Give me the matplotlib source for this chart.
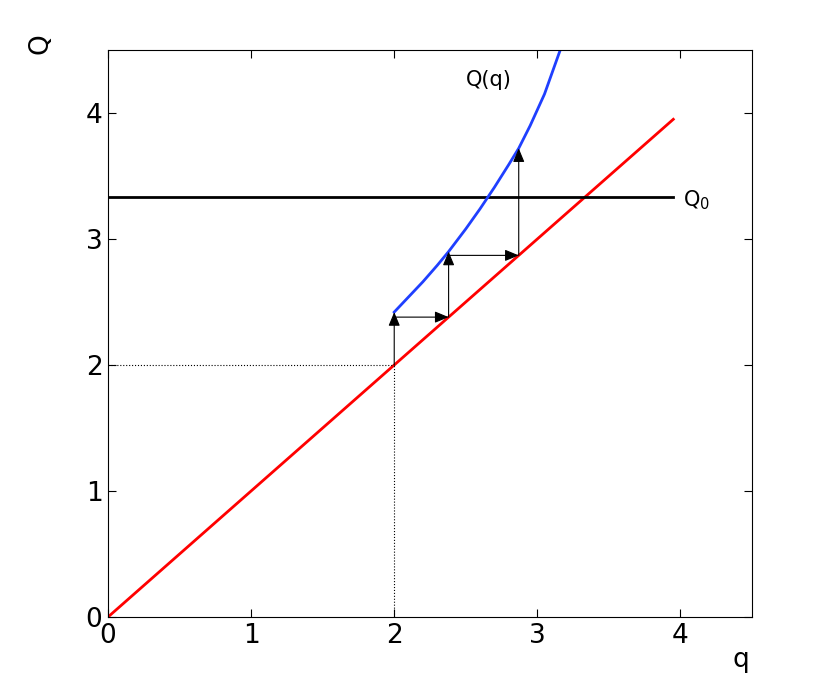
import matplotlib
matplotlib.use("Agg")
import matplotlib.pyplot as plt

ticks = [0, 1, 2, 3, 4]
line_q = [0, 3.95]
Q0 = 3.33
Q0_x = [0, 3.95]
curve_q = [2.0, 2.1, 2.2, 2.3, 2.38, 2.5, 2.6, 2.7, 2.8, 2.87, 2.95, 3.05, 3.16]
curve_Q = [2.42, 2.54, 2.66, 2.79, 2.9, 3.08, 3.24, 3.41, 3.59, 3.72, 3.9, 4.15, 4.5]
steps_x = [2.0, 2.38, 2.87]
steps_lo = [2.0, 2.38, 2.87]
steps_hi = [2.42, 2.9, 3.72]

fig = plt.figure(figsize=(8.3, 6.94), dpi=100)
ax = fig.add_axes([108/830, 77/694, 644/830, 567/694])
ax.plot(line_q, line_q, color="#ff0000", lw=2)
ax.plot(Q0_x, [Q0, Q0], color="black", lw=2)
ax.plot(curve_q, curve_Q, color="#1f3fff", lw=2)
ax.plot([0, 2], [2, 2], 'k:', lw=0.8)
ax.plot([2, 2], [0, 2], 'k:', lw=0.8)
ap = dict(arrowstyle="-|>,head_length=0.6,head_width=0.25", color="black", lw=0.8,
          mutation_scale=14, shrinkA=0, shrinkB=0)
for i, x in enumerate(steps_x):
    ax.annotate("", xy=(x, steps_hi[i]), xytext=(x, steps_lo[i]), arrowprops=ap)
    if i + 1 < len(steps_x):
        ax.annotate("", xy=(steps_x[i+1], steps_lo[i+1]), xytext=(x, steps_lo[i+1]), arrowprops=ap)
ax.text(2.5, 4.26, "Q(q)", fontsize=15, va="center")
ax.text(4.02, 3.31, "Q$_0$", fontsize=15, va="center")
ax.set_xlim(0, 4.5)
ax.set_ylim(0, 4.5)
ax.set_xticks(ticks)
ax.set_yticks(ticks)
ax.tick_params(direction="in", top=True, right=True, labelsize=19, length=6, pad=4)
ax.text(-0.47, 4.55, "Q", fontsize=19, rotation=90, va="center", ha="center")
ax.text(4.42, -0.34, "q", fontsize=19, va="center", ha="center")
fig.savefig("out.png", dpi=100)
